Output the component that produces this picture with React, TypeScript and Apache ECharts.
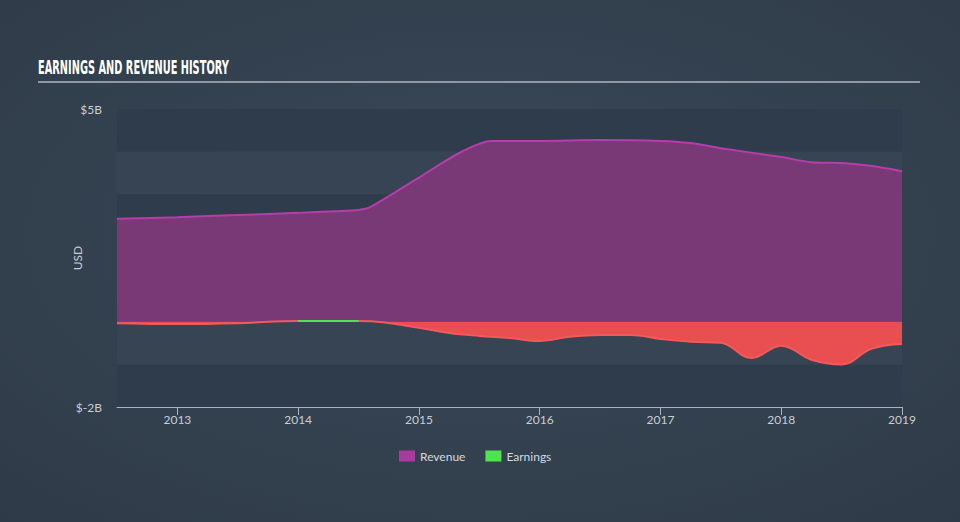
import React, { useEffect, useRef } from "react";
import * as echarts from "echarts";

const years = [2013, 2014, 2015, 2016, 2017, 2018, 2019];
const yLabels = [-2, 5];

const revenueX = [2012.5, 2013, 2013.5, 2014, 2014.3, 2014.5, 2014.6, 2015, 2015.35, 2015.6, 2016, 2016.5, 2017, 2017.25, 2017.5, 2018, 2018.25, 2018.5, 2018.75, 2019];
const revenueY = [2.42, 2.46, 2.51, 2.56, 2.6, 2.63, 2.7, 3.39, 3.99, 4.25, 4.25, 4.27, 4.25, 4.2, 4.08, 3.87, 3.75, 3.73, 3.66, 3.54];

const earningsX = [2012.5, 2013, 2013.5, 2014, 2014.5, 2014.7, 2015, 2015.25, 2015.5, 2015.75, 2016, 2016.25, 2016.5, 2016.75, 2017, 2017.25, 2017.5, 2017.75, 2018, 2018.25, 2018.5, 2018.75, 2019];
const earningsY = [-0.03, -0.05, -0.03, 0.02, 0.02, -0.01, -0.14, -0.26, -0.33, -0.38, -0.45, -0.35, -0.31, -0.31, -0.4, -0.47, -0.49, -0.85, -0.56, -0.89, -1.0, -0.63, -0.52];

const TITLE = "EARNINGS AND REVENUE HISTORY";
const TITLE_FONT = "bold 20px 'DejaVu Sans'";

function measure(text: string, font: string): number {
  const c = document.createElement("canvas");
  const ctx = c.getContext("2d");
  if (!ctx) return 380;
  ctx.font = font;
  return ctx.measureText(text).width;
}

export default function App() {
  const ref = useRef<HTMLDivElement>(null);
  useEffect(() => {
    if (!ref.current) return;
    const chart = echarts.init(ref.current, null, { renderer: "svg" });
    const labelColor = "#c9ced4";
    const titleScale = 191 / measure(TITLE, TITLE_FONT);
    chart.setOption({
      animation: false,
      backgroundColor: {
        type: "radial",
        x: 0.5,
        y: 0.45,
        r: 0.75,
        colorStops: [
          { offset: 0, color: "#3a4959" },
          { offset: 1, color: "#2e3a47" },
        ],
      },
      graphic: [
        {
          type: "text",
          x: 38,
          y: 57,
          scaleX: titleScale,
          style: {
            text: TITLE,
            font: TITLE_FONT,
            fill: "#ffffff",
            textVerticalAlign: "top",
          },
        },
        {
          type: "line",
          shape: { x1: 38, y1: 82, x2: 920, y2: 82 },
          style: { stroke: "#8d98a4", lineWidth: 2 },
        },
      ],
      legend: {
        bottom: 55,
        left: 394,
        icon: "rect",
        itemWidth: 16,
        itemHeight: 11,
        itemGap: 20,
        textStyle: { color: "#d5d9de", fontSize: 12, fontFamily: "Lato" },
        data: [
          { name: "Revenue", itemStyle: { color: "#a83aa0" } },
          { name: "Earnings", itemStyle: { color: "#4fe34f" } },
        ],
      },
      grid: { left: 117, right: 58, top: 109, bottom: 115 },
      xAxis: {
        type: "value",
        min: 2012.5,
        max: 2019,
        splitLine: { show: false },
        axisLine: { show: true, onZero: false, lineStyle: { color: "#a9b4bf", width: 1 } },
        axisTick: {
          show: true,
          customValues: years,
          length: 8,
          lineStyle: { color: "#a9b4bf" },
        },
        axisLabel: {
          customValues: years,
          color: labelColor,
          fontSize: 12,
          fontFamily: "Lato",
          margin: 6,
          formatter: (v: number) => String(Math.round(v)),
        },
      },
      yAxis: {
        type: "value",
        min: -2,
        max: 5,
        interval: 1,
        name: "USD",
        nameLocation: "middle",
        nameGap: 34,
        nameMoveOverlap: false,
        nameTextStyle: { color: labelColor, fontSize: 12, fontFamily: "Lato" },
        axisLine: { show: false },
        axisTick: { show: false },
        splitLine: { show: false },
        splitArea: {
          show: true,
          areaStyle: { color: ["#2f3c4b", "#364453"] },
        },
        axisLabel: {
          color: labelColor,
          fontSize: 12,
          fontFamily: "Lato",
          margin: 15,
          formatter: (v: number) => (yLabels.indexOf(v) >= 0 ? "$" + v + "B" : ""),
        },
      },
      series: [
        {
          name: "Revenue",
          type: "line",
          smooth: 0.3,
          symbol: "none",
          data: revenueX.map((x, i) => [x, revenueY[i]]),
          lineStyle: { color: "#b63dab", width: 2 },
          itemStyle: { color: "#a83aa0" },
          areaStyle: { color: "#793876", opacity: 1 },
          z: 2,
        },
        {
          name: "Earnings",
          type: "line",
          smooth: 0.4,
          symbol: "none",
          data: earningsX.map((x, i) => [x, earningsY[i]]),
          lineStyle: { width: 2, color: "#f25a5a" },
          itemStyle: { color: "#4fe34f" },
          areaStyle: { opacity: 1, color: "#e94f50" },
          z: 3,
        },
        {
          name: "Earnings",
          type: "line",
          smooth: 0.4,
          symbol: "none",
          data: earningsX.map((x, i) => [x, earningsY[i] >= 0 ? earningsY[i] : null]),
          lineStyle: { width: 2, color: "#4fe34f" },
          itemStyle: { color: "#4fe34f" },
          z: 4,
        },
      ],
    });
    return () => chart.dispose();
  }, []);
  return <div ref={ref} style={{ width: 960, height: 522, position: "absolute", left: 0, top: 0 }} />;
}
